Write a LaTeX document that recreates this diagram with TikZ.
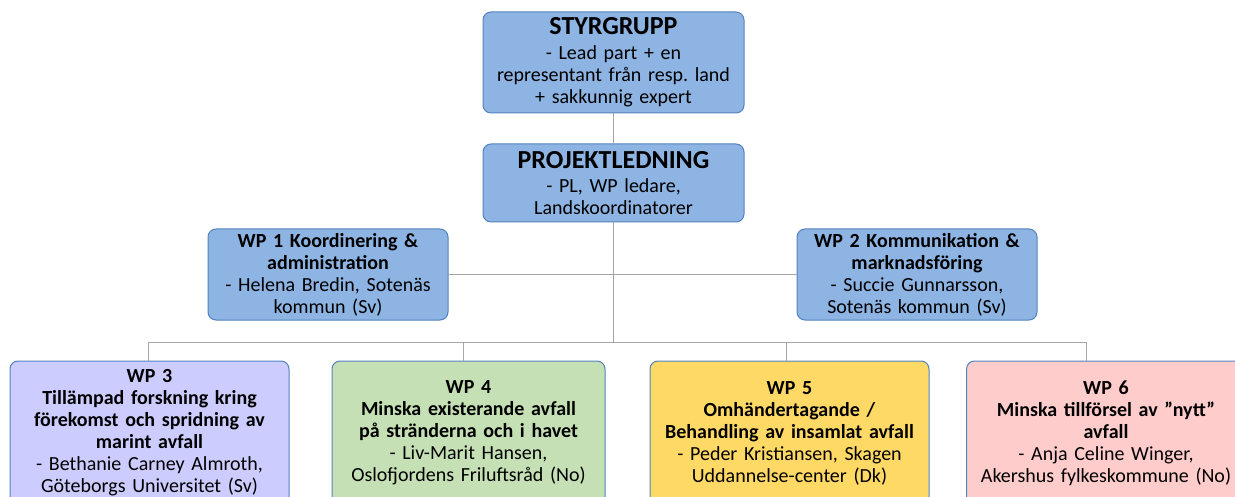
\documentclass[tikz,border=0pt]{standalone}
\usepackage{fontspec}
\setmainfont{Carlito}
\usepackage{tikz}
\usetikzlibrary{positioning}
\frenchspacing
\definecolor{boxblue}{RGB}{141,180,226}
\definecolor{boxedge}{RGB}{84,130,190}
\definecolor{wpviolet}{RGB}{204,204,255}
\definecolor{wpgreen}{RGB}{197,224,180}
\definecolor{wpyellow}{RGB}{255,217,102}
\definecolor{wppink}{RGB}{255,204,204}
\definecolor{linkgray}{RGB}{166,166,166}
\tikzstyle{block} = [rectangle, draw=boxedge, line width=1pt, fill=boxblue,
    rounded corners=8pt, align=center, inner sep=0pt,
    font=\fontsize{20}{22}\selectfont]
\tikzstyle{wp} = [block, minimum width=279pt, minimum height=144pt, text width=275pt]
\tikzstyle{link} = [draw=linkgray, line width=1pt]
\newcommand{\boxtitle}[1]{{\fontsize{26}{26}\selectfont\bfseries #1}}

\begin{document}
\begin{tikzpicture}[x=1pt, y=-1pt]
  \useasboundingbox (0,0) rectangle (1235,497);
  \clip (0,0) rectangle (1235,497);
  % Place nodes
  \node [block, minimum width=261pt, minimum height=101pt, text width=257pt] (styr) at (613.5,62.5)
    {\boxtitle{STYRGRUPP}\\[3pt]- Lead part + en\\representant från resp. land\\+ sakkunnig expert};
  \node [block, minimum width=261pt, minimum height=78pt, text width=257pt] (proj) at (613.5,183)
    {\boxtitle{PROJEKTLEDNING}\\[2pt]- PL, WP ledare,\\Landskoordinatorer};
  \node [block, minimum width=240pt, minimum height=91pt, text width=236pt] (wp1) at (328,274.5)
    {\textbf{WP 1 Koordinering \&}\\\textbf{administration}\\- Helena Bredin, Sotenäs\\kommun (Sv)};
  \node [block, minimum width=240pt, minimum height=91pt, text width=236pt] (wp2) at (917,274.5)
    {\textbf{WP 2 Kommunikation \&}\\\textbf{marknadsföring}\\- Succie Gunnarsson,\\Sotenäs kommun (Sv)};
  \node [wp, fill=wpviolet] (wp3) at (149.5,433)
    {\textbf{WP 3}\\\textbf{Tillämpad forskning kring}\\\textbf{förekomst och spridning av}\\\textbf{marint avfall}\\- Bethanie Carney Almroth,\\Göteborgs Universitet (Sv)};
  \node [wp, fill=wpgreen, minimum width=273pt, text width=269pt] (wp4) at (468.5,433)
    {\textbf{WP 4}\\\textbf{Minska existerande avfall}\\\textbf{på stränderna och i havet}\\- Liv-Marit Hansen,\\Oslofjordens Friluftsråd (No)};
  \node [wp, fill=wpyellow] (wp5) at (789.5,433)
    {\textbf{WP 5}\\\textbf{Omhändertagande /}\\\textbf{Behandling av insamlat avfall}\\- Peder Kristiansen, Skagen\\Uddannelse-center (Dk)};
  \node [wp, fill=wppink] (wp6) at (1106,433)
    {\textbf{WP 6}\\\textbf{Minska tillförsel av ”nytt”}\\\textbf{avfall}\\- Anja Celine Winger,\\Akershus fylkeskommune (No)};
  \coordinate (bus) at (613.5,342);
  % Draw edges
  \path [link] (styr) -- (proj);
  \path [link] (proj) -- (bus);
  \path [link] (wp1) -- (wp2);
  \path [link] (bus) -| ([xshift=-1.5pt]wp3.north);
  \path [link] (bus) -| ([xshift=-5.5pt]wp4.north);
  \path [link] (bus) -| ([xshift=-3.5pt]wp5.north);
  \path [link] (bus) -| ([xshift=-20pt]wp6.north);
\end{tikzpicture}
\end{document}
